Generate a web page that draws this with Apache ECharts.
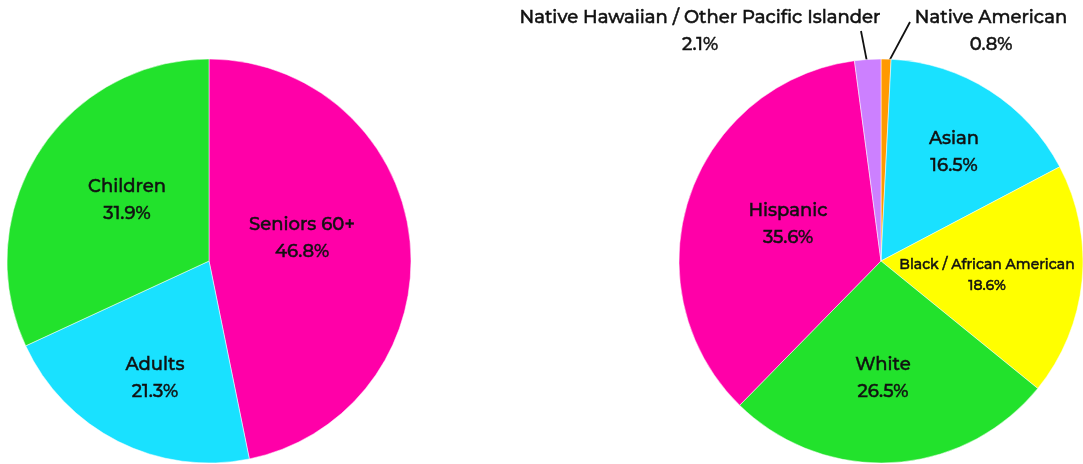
<!DOCTYPE html>
<html>
<head>
<meta charset="utf-8">
<script src="https://cdn.jsdelivr.net/npm/echarts@6/dist/echarts.min.js"></script>
<style>html,body{margin:0;padding:0;background:#fff;}#c{width:1083px;height:464px;}</style>
</head>
<body>
<div id="c"></div>
<script>
// ---- data ----
var ageNames = ['Seniors 60+', 'Adults', 'Children'];
var ageValues = [46.8, 21.3, 31.9];
var ageColors = ['#FF00A8', '#19E1FF', '#22E22C'];

var raceNames = ['Native American', 'Asian', 'Black / African American', 'White', 'Hispanic', 'Native Hawaiian / Other Pacific Islander'];
var raceValues = [0.8, 16.5, 18.6, 26.5, 35.6, 2.1];
var raceColors = ['#FF9900', '#19E1FF', '#FFFF00', '#22E22C', '#FF00A8', '#CC80FF'];

// ---- layout / style ----
var FONT = 'Montserrat, "DejaVu Sans", sans-serif';
var R = 202;
var leftC = [209, 261], rightC = [881, 261];
// label anchor offsets from pie centre (style)
var ageLabelOff = {'Seniors 60+': [93, -23], 'Adults': [-54, 117], 'Children': [-82, -61]};
var raceLabelOff = {'Asian': [73, -109], 'Black / African American': [106, 14], 'White': [2, 117], 'Hispanic': [-93, -37],
  'Native American': [110, -230], 'Native Hawaiian / Other Pacific Islander': [-181, -230]};

function midAngles(vals) {
  var tot = vals.reduce(function (a, b) { return a + b; }, 0);
  var acc = 0, out = [];
  vals.forEach(function (v) { out.push((acc + v / 2) / tot * Math.PI * 2); acc += v; });
  return out;
}
var raceMid = midAngles(raceValues);

function txt(size, lh) {
  return {fontSize: size, lineHeight: lh, fontWeight: 500, fontFamily: FONT, color: '#111',
    textBorderColor: '#111', textBorderWidth: 0.45};
}
var richBase = {n: txt(18, 27), p: txt(18, 27)};
var richSmall = {n: txt(14, 21), p: txt(14, 21)};

function mkData(names, vals, colors) {
  return names.map(function (n, i) {
    var d = {name: n, value: vals[i], itemStyle: {color: colors[i]}};
    if (n === 'Black / African American') d.label = {rich: richSmall};
    return d;
  });
}
function fmt(p) { return '{n|' + p.name + '}\n{p|' + p.value.toFixed(1) + '%}'; }

var chart = echarts.init(document.getElementById('c'), null, {renderer: 'canvas'});
chart.setOption({
  backgroundColor: '#fff',
  animation: false,
  series: [
    {
      type: 'pie',
      center: leftC,
      radius: [0, R],
      startAngle: 90,
      clockwise: true,
      data: mkData(ageNames, ageValues, ageColors),
      itemStyle: {borderColor: 'rgba(255,255,255,0.5)', borderWidth: 1},
      label: {position: 'inside', formatter: fmt, rich: richBase},
      labelLine: {show: false},
      labelLayout: function (p) {
        var o = ageLabelOff[ageNames[p.dataIndex]];
        return {x: leftC[0] + o[0], y: leftC[1] + o[1], align: 'center', verticalAlign: 'middle'};
      }
    },
    {
      type: 'pie',
      center: rightC,
      radius: [0, R],
      startAngle: 90,
      clockwise: true,
      data: mkData(raceNames, raceValues, raceColors).map(function (d) {
        if (d.name === 'Native American' || d.name === 'Native Hawaiian / Other Pacific Islander') {
          d.label = {position: 'outside'};
          d.labelLine = {show: true, length: 10, length2: 10, lineStyle: {color: '#111', width: 1.8}};
        }
        return d;
      }),
      itemStyle: {borderColor: 'rgba(255,255,255,0.5)', borderWidth: 1},
      label: {position: 'inside', formatter: fmt, rich: richBase},
      labelLine: {show: false},
      labelLayout: function (p) {
        var i = p.dataIndex, a = raceMid[i], nm = raceNames[i];
        var o = raceLabelOff[nm];
        var res = {x: rightC[0] + o[0], y: rightC[1] + o[1], align: 'center', verticalAlign: 'middle'};
        if (nm === 'Native American') {
          res.labelLinePoints = [[rightC[0] + (R - 8) * Math.sin(a), rightC[1] - (R - 8) * Math.cos(a)], [910, 22], [910, 22]];
        } else if (nm === 'Native Hawaiian / Other Pacific Islander') {
          res.labelLinePoints = [[rightC[0] + (R - 9) * Math.sin(a), rightC[1] - (R - 9) * Math.cos(a)], [861, 31], [861, 31]];
        }
        return res;
      }
    }
  ]
});
</script>
</body>
</html>
